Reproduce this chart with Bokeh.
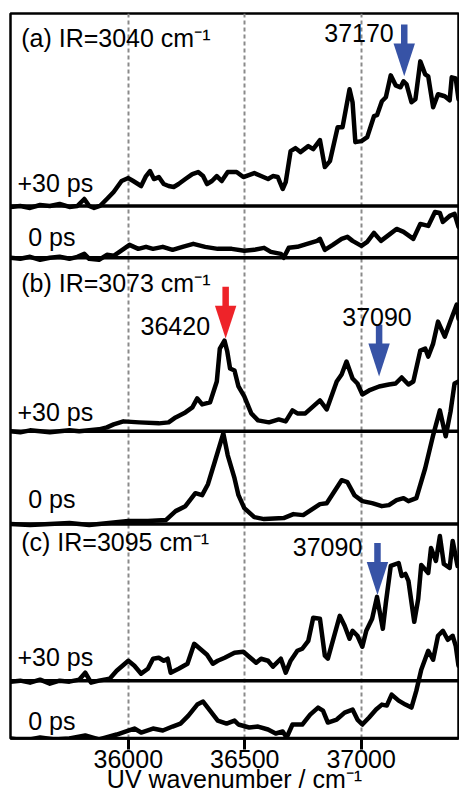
from bokeh.plotting import figure
from bokeh.models import Range1d, FixedTicker, Span
from bokeh.embed import file_html
from bokeh.resources import INLINE
from bokeh.core.properties import value

FONT = "Liberation Sans"
BLUE = "#3753a6"
RED = "#ee2329"

# ---------------- data ----------------
tick_vals = [36000, 36500, 37000]
x_lo, x_hi = 35494, 37418

# (a) IR = 3040 cm-1
a30_wn = [35494, 35536, 35578, 35621, 35663, 35705, 35747, 35781, 35811, 35832,
          35853, 35878, 35908, 35937, 35971, 36000, 36021, 36055, 36076, 36093,
          36110, 36131, 36152, 36173, 36195, 36216, 36245, 36275, 36300, 36321,
          36338, 36359, 36380, 36401, 36427, 36465, 36494, 36541, 36570, 36600,
          36621, 36642, 36663, 36676, 36697, 36718, 36739, 36773, 36794, 36823,
          36844, 36866, 36899, 36920, 36950, 36963, 36975, 37001, 37026, 37055,
          37068, 37089, 37106, 37127, 37148, 37169, 37182, 37195, 37216, 37233,
          37254, 37275, 37288, 37309, 37330, 37359, 37380, 37389, 37406, 37418]
a30_int = [-1, 0, -2, 1, 0, 2, -1, 0, 7, 0,
           -2, 0, 7, 14, 25, 28, 25, 20, 30, 35,
           27, 29, 22, 20, 19, 22, 27, 32, 34, 30,
           22, 25, 30, 25, 34, 34, 29, 33, 30, 27,
           30, 29, 17, 24, 55, 58, 54, 60, 57, 66,
           39, 45, 79, 79, 117, 104, 64, 65, 69, 90,
           91, 105, 109, 131, 121, 119, 125, 122, 104, 107,
           145, 132, 130, 99, 112, 110, 106, 129, 128, 107]
a0_wn = [35494, 35536, 35578, 35621, 35663, 35705, 35747, 35781, 35811, 35832,
         35874, 35908, 35937, 35962, 36005, 36043, 36076, 36106, 36148, 36190,
         36233, 36279, 36330, 36384, 36444, 36498, 36541, 36583, 36612, 36655,
         36667, 36689, 36726, 36768, 36811, 36823, 36844, 36878, 36916, 36941,
         36963, 37001, 37026, 37055, 37085, 37119, 37152, 37182, 37224, 37254,
         37288, 37317, 37338, 37351, 37380, 37401, 37418]
a0_int = [0, -1, 1, -2, 0, 1, -1, 1, 4, -1,
          -2, 3, 2, 6, 13, 9, 11, 9, 11, 8,
          11, 14, 11, 9, 9, 7, 8, 10, 6, 4,
          0, 10, 11, 14, 17, 19, 8, 13, 19, 21,
          17, 12, 16, 25, 17, 23, 29, 26, 19, 34,
          32, 46, 45, 36, 42, 44, 31]

# (b) IR = 3073 cm-1
b30_wn = [35494, 35536, 35578, 35621, 35663, 35705, 35747, 35789, 35832, 35874,
          35908, 35937, 35979, 36047, 36131, 36173, 36203, 36245, 36275, 36296,
          36317, 36351, 36380, 36393, 36413, 36425, 36437, 36456, 36473, 36498,
          36528, 36557, 36604, 36646, 36676, 36705, 36726, 36760, 36794, 36823,
          36852, 36895, 36916, 36937, 36963, 36984, 37005, 37034, 37077, 37119,
          37148, 37174, 37203, 37224, 37254, 37275, 37288, 37309, 37330, 37359,
          37384, 37410, 37418]
b30_int = [0, -1, 1, 0, -1, 0, 1, 0, 1, 2,
           4, 7, 10, 9, 8, 9, 14, 19, 24, 33,
           27, 29, 50, 83, 91, 80, 63, 61, 45, 35,
           18, 11, 9, 12, 10, 21, 18, 18, 25, 31,
           22, 50, 57, 70, 53, 48, 37, 41, 45, 47,
           48, 54, 47, 50, 81, 83, 75, 88, 110, 95,
           111, 127, 113]
b0_wn = [35494, 35578, 35663, 35747, 35832, 35916, 36000, 36084, 36161, 36203,
         36245, 36288, 36317, 36342, 36372, 36408, 36427, 36456, 36473, 36498,
         36541, 36583, 36667, 36709, 36751, 36823, 36852, 36916, 36941, 36971,
         37005, 37047, 37089, 37119, 37152, 37182, 37203, 37237, 37275, 37309,
         37338, 37363, 37384, 37401, 37418]
b0_int = [0, -1, 0, 1, -1, 1, 3, 3, 4, 13,
          18, 31, 29, 40, 63, 91, 69, 46, 29, 16,
          7, 5, 6, 10, 9, 20, 21, 44, 42, 29,
          23, 21, 18, 19, 24, 26, 23, 26, 56, 89,
          114, 88, 113, 141, 143]

# (c) IR = 3095 cm-1
c30_wn = [35494, 35536, 35578, 35621, 35663, 35705, 35747, 35789, 35815, 35840,
          35874, 35920, 35950, 36000, 36026, 36055, 36084, 36106, 36131, 36152,
          36169, 36182, 36216, 36254, 36283, 36308, 36338, 36363, 36384, 36414,
          36456, 36494, 36519, 36549, 36570, 36600, 36621, 36655, 36676, 36697,
          36726, 36747, 36773, 36794, 36823, 36844, 36857, 36908, 36929, 36950,
          36963, 36984, 37005, 37022, 37047, 37068, 37093, 37106, 37127, 37161,
          37174, 37190, 37203, 37228, 37245, 37258, 37288, 37300, 37321, 37338,
          37355, 37380, 37393, 37414]
c30_int = [-1, 0, -2, 1, -3, 0, -1, 1, 8, -2,
           0, 2, 10, 20, 15, 7, 12, 22, 23, 20,
           22, 8, 12, 17, 37, 32, 26, 17, 20, 23,
           28, 29, 24, 18, 22, 20, 14, 22, 8, 20,
           30, 32, 40, 63, 62, 25, 22, 65, 55, 42,
           50, 45, 34, 50, 62, 84, 52, 78, 115, 118,
           105, 107, 100, 59, 82, 116, 108, 133, 120, 145,
           117, 113, 140, 115]
c0_wn = [35494, 35557, 35621, 35684, 35747, 35815, 35874, 35950, 36000, 36026,
         36055, 36106, 36148, 36190, 36224, 36258, 36296, 36321, 36351, 36384,
         36422, 36456, 36473, 36519, 36557, 36600, 36633, 36663, 36680, 36705,
         36747, 36781, 36815, 36836, 36857, 36895, 36929, 36963, 36984, 37005,
         37034, 37064, 37089, 37110, 37131, 37161, 37190, 37216, 37237, 37258,
         37288, 37309, 37330, 37351, 37372, 37393, 37406, 37418]
c0_int = [0, -2, 1, -1, 0, 3, -1, 4, 8, 10,
          6, 10, 8, 12, 15, 23, 34, 37, 28, 18,
          15, 18, 14, 11, 12, 9, 5, 7, 1, 14,
          14, 24, 31, 28, 16, 19, 26, 29, 19, 14,
          21, 29, 34, 33, 44, 38, 34, 31, 48, 69,
          88, 79, 103, 108, 99, 103, 93, 73]

panel_labels = ["(a) IR=3040 cm\u207b\u00b9", "(b) IR=3073 cm\u207b\u00b9", "(c) IR=3095 cm\u207b\u00b9"]
delay_labels = ["+30 ps", "0 ps"]
arrow_wn = [37185, 36418, 37077, 37070]
arrow_text = ["37170", "36420", "37090", "37090"]
arrow_colors = [BLUE, RED, BLUE, BLUE]

# ---------------- layout (vertical offsets, in plot units) ----------------
Y_TOP = 727
base30 = [534, 308, 58]
base0 = [482, 215, 0]
MID = 9  # text is anchored at its middle: lift by half a cap height
panel_label_y = [693 + MID, 448 + MID, 188 + MID]
lab30_y = [548 + MID, 318 + MID, 73 + MID]
lab0_y = [494 + MID, 231 + MID, 9 + MID]
arrow_tip_y = [664, 401, 363, 144]
arrow_lab_dx = [-45, -67, -9, -65]
arrow_lab_dy = [34 + MID, 4 + MID, 51 + MID, 39 + MID]
arrow_lab_align = ["right", "right", "center", "right"]
ARROW_LEN, HEAD_LEN, HEAD_HALF = 52, 33, 46

p = figure(width=459, height=795, output_backend="svg", toolbar_location=None,
           x_range=Range1d(x_lo, x_hi), y_range=Range1d(0, Y_TOP),
           y_axis_location=None, min_border_left=10, min_border_right=1,
           min_border_top=13, min_border_bottom=0)
p.outline_line_color = "black"
p.outline_line_width = 2.5
p.background_fill_color = "white"
p.border_fill_color = "white"

# dashed reference lines
p.xgrid.ticker = FixedTicker(ticks=tick_vals)
p.xgrid.grid_line_color = "#8a8a8a"
p.xgrid.grid_line_dash = "4 3"
p.xgrid.grid_line_width = 2
p.ygrid.visible = False

ax = p.xaxis[0]
ax.ticker = FixedTicker(ticks=tick_vals)
ax.axis_label = "UV wavenumber / cm\u207b\u00b9"
ax.axis_label_text_font = FONT
ax.axis_label_text_font_size = "25px"
ax.axis_label_text_font_style = "normal"
ax.axis_label_text_color = "black"
ax.axis_label_standoff = -6
ax.major_label_text_font = FONT
ax.major_label_text_font_size = "25px"
ax.major_label_text_color = "black"
ax.major_label_standoff = 0
ax.major_tick_in = 0
ax.major_tick_out = 11
ax.major_tick_line_width = 3
ax.major_tick_line_color = "black"
ax.minor_tick_line_color = None
ax.axis_line_width = 2.5
ax.axis_line_color = "black"

# baselines / separators
for b in base30 + base0:
    p.add_layout(Span(location=b, dimension="width", line_color="black", line_width=3.5))

traces = [(a30_wn, a30_int, base30[0]), (a0_wn, a0_int, base0[0]),
          (b30_wn, b30_int, base30[1]), (b0_wn, b0_int, base0[1]),
          (c30_wn, c30_int, base30[2]), (c0_wn, c0_int, base0[2])]
for wn, vals, b in traces:
    p.line(wn, [b + v for v in vals], line_color="black", line_width=4.5,
           line_join="round", line_cap="round")

# arrows
p.segment(x0=arrow_wn, y0=[t + ARROW_LEN for t in arrow_tip_y],
          x1=arrow_wn, y1=[t + HEAD_LEN - 2 for t in arrow_tip_y],
          line_color=arrow_colors, line_width=6.5, line_cap="butt")
p.patches(xs=[[x - HEAD_HALF, x + HEAD_HALF, x] for x in arrow_wn],
          ys=[[t + HEAD_LEN, t + HEAD_LEN, t] for t in arrow_tip_y],
          fill_color=arrow_colors, line_color=None)

txt = dict(text_font=value(FONT), text_font_size="25px", text_color="black",
           text_baseline="middle")
for i, al in enumerate(arrow_lab_align):
    p.text(x=[arrow_wn[i] + arrow_lab_dx[i]], y=[arrow_tip_y[i] + arrow_lab_dy[i]],
           text=[arrow_text[i]], text_align=al, **txt)

p.text(x=[x_lo + 46] * 3, y=panel_label_y, text=panel_labels, text_align="left", **txt)
p.text(x=[x_lo + 30] * 3, y=lab30_y, text=[delay_labels[0]] * 3, text_align="left", **txt)
p.text(x=[x_lo + 76] * 3, y=lab0_y, text=[delay_labels[1]] * 3, text_align="left", **txt)

open("out.html", "w").write(file_html(p, INLINE))
